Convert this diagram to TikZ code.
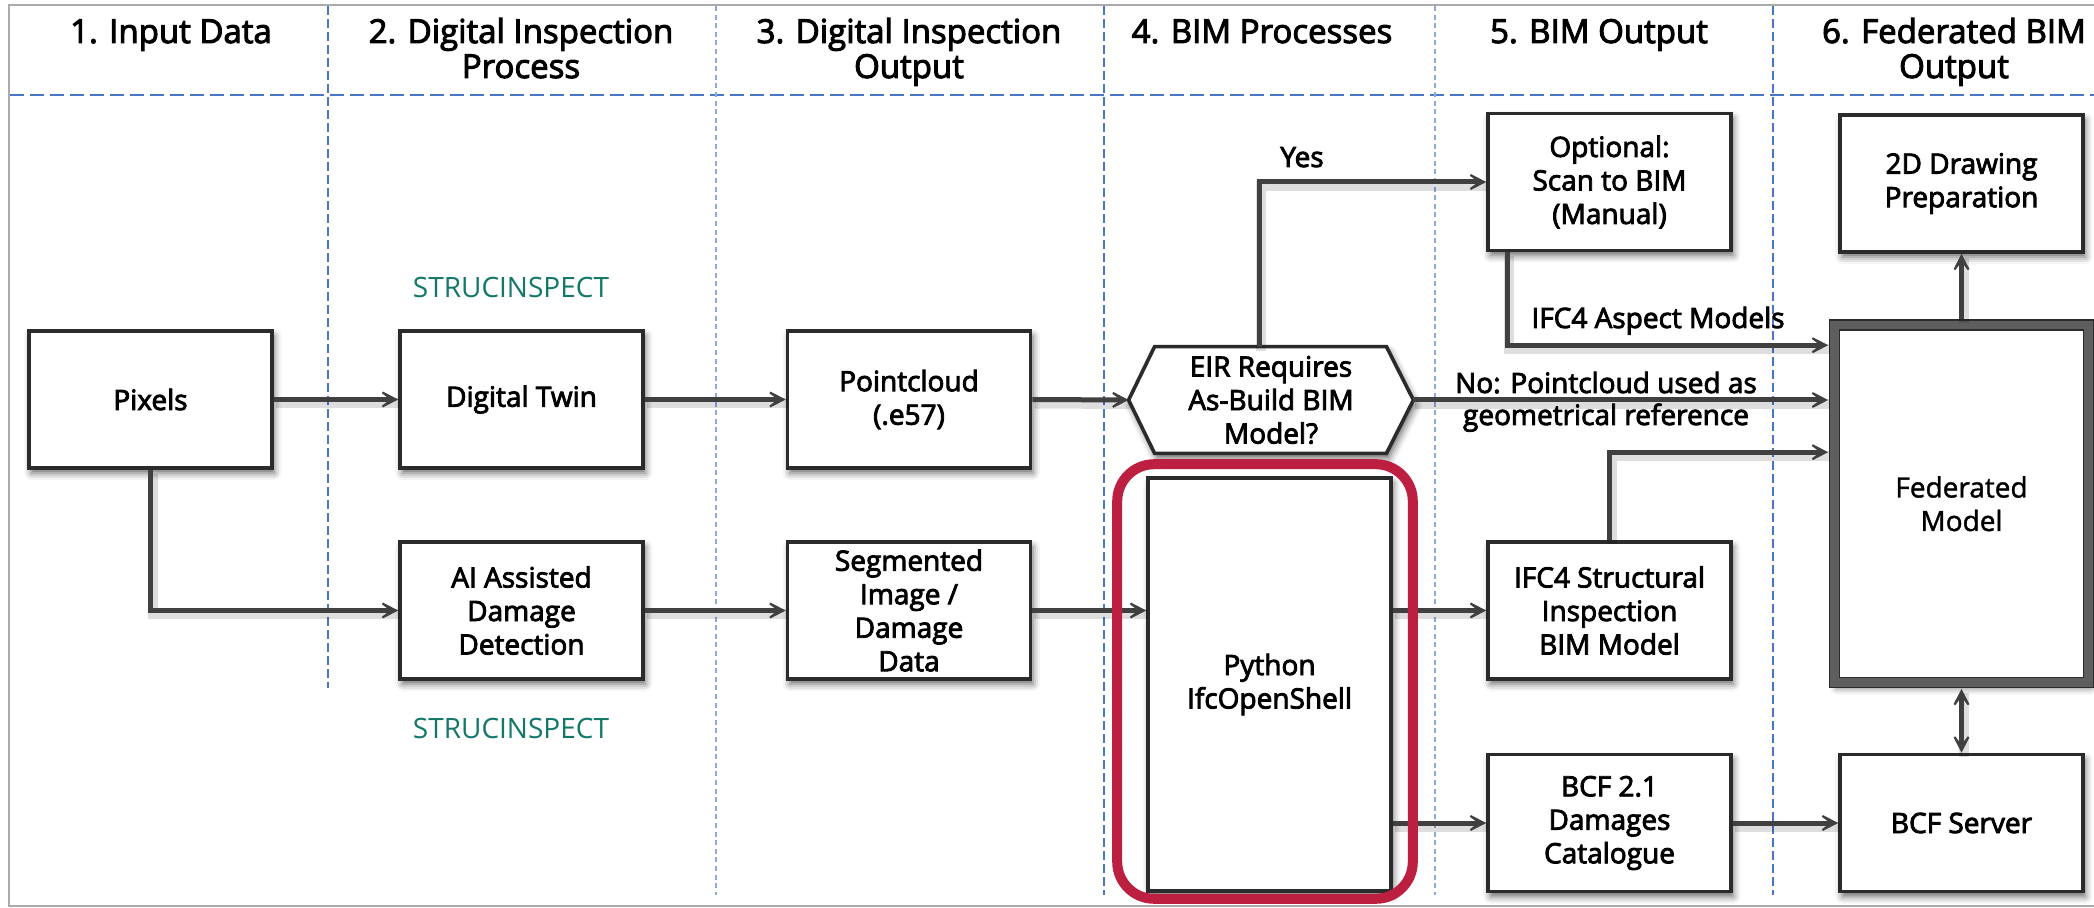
\documentclass[tikz,border=0pt]{standalone}
\usepackage{fontspec}
\setmainfont{Open Sans}
\newfontfamily\semib[FakeBold=3]{Open Sans}
\newfontfamily\regb[FakeBold=1.3]{Open Sans}
\usetikzlibrary{arrows.meta,calc,shadows.blur,backgrounds}

\definecolor{ink}{HTML}{404040}
\definecolor{boxline}{HTML}{2B2B2B}
\definecolor{gridblue}{HTML}{4A76C9}
\definecolor{gridlight}{HTML}{8EA9DB}
\definecolor{framegray}{HTML}{ABABAB}
\definecolor{strucgreen}{HTML}{13776A}
\definecolor{crimson}{HTML}{BC1F40}
\definecolor{fedband}{HTML}{5E5E5E}

\tikzset{
  hdr/.style={font=\semib\fontsize{16.5}{17.5}\selectfont, anchor=base, inner sep=0pt},
  boxtext/.style={font=\semib\fontsize{14}{16.75}\selectfont, align=center},
  softshadow/.style={blur shadow={shadow xshift=1.2pt, shadow yshift=-2.5pt,
      shadow blur radius=3.5pt, shadow opacity=60}},
  stepbox/.style={boxtext, draw=boxline, line width=1.8pt, fill=white,
    minimum width=121.5pt, minimum height=68.5pt, inner sep=2pt, softshadow},
  fedbox/.style={font=\regb\fontsize{14}{16.75}\selectfont, align=center, text=black,
    draw=boxline, line width=0.8pt, double=fedband, double distance=4.2pt,
    fill=white, minimum width=127pt, minimum height=178.75pt, softshadow},
  flow/.style={draw=ink, line width=2.5pt, ->,
    preaction={draw=black, draw opacity=0.13, line width=5pt, arrows=-,
      transform canvas={xshift=1pt, yshift=-2pt}}},
  lbl/.style={font=\semib\fontsize{14}{16.75}\selectfont, anchor=base, inner sep=0pt},
  struc/.style={font=\fontsize{14}{16.75}\selectfont, text=strucgreen, anchor=base, inner sep=0pt},
  gridthick/.style={draw=gridblue, line width=1.2pt, dash pattern=on 4.5pt off 2pt},
  gridrow/.style={draw=gridblue, line width=1.3pt, dash pattern=on 7pt off 3pt},
  gridthin/.style={draw=gridlight, line width=0.6pt, dash pattern=on 2.5pt off 1.8pt},
}

\begin{document}
\begin{tikzpicture}[x=0.5pt, y=-0.5pt,
  >={Stealth[length=13pt, width=13.5pt, inset=9pt]}]
\useasboundingbox (0,0) rectangle (2094,908);

% outer frame
\draw[framegray, line width=1pt] (2094,5) -- (9,5) -- (9,906) -- (2094,906);

% swimlane grid
\draw[gridrow] (10,95) -- (2094,95);
\draw[gridthick] (328,6) -- (328,688);
\draw[gridthin] (716,6) -- (716,895);
\draw[gridthick] (1104,6) -- (1104,895);
\draw[gridthin] (1435,6) -- (1435,895);
\draw[gridthick] (1773,6) -- (1773,895);

% lane headers
\node[hdr] (h1) at (171,43) {1. Input Data};
\node[hdr] (h2) at (521,43) {\begin{tabular}[t]{@{}c@{}}2. Digital Inspection\\Process\end{tabular}};
\node[hdr] (h3) at (909,43) {\begin{tabular}[t]{@{}c@{}}3. Digital Inspection\\Output\end{tabular}};
\node[hdr] (h4) at (1262,43) {4. BIM Processes};
\node[hdr] (h5) at (1599,43) {5. BIM Output};
\node[hdr] (h6) at (1954,43) {\begin{tabular}[t]{@{}c@{}}6. Federated BIM\\Output\end{tabular}};

% process boxes
\node[stepbox] (pix)  at (150.5,399.5) {Pixels};
\node[stepbox] (dt)   at (521.5,399.5) {Digital Twin};
\node[stepbox] (pc)   at (909,399.5)   {Pointcloud\\(.e57)};
\node[stepbox] (ai)   at (521.5,610.5) {AI Assisted\\Damage\\Detection};
\node[stepbox] (seg)  at (909,610.5)   {Segmented\\Image /\\Damage\\Data};
\node[stepbox, minimum height=206.5pt] (py) at (1269.5,684.5) {Python\\IfcOpenShell};
\node[stepbox] (scan) at (1609.5,182)  {Optional:\\Scan to BIM\\(Manual)};
\node[stepbox] (ifcs) at (1609.5,610.5) {IFC4 Structural\\Inspection\\BIM Model};
\node[stepbox] (bcf)  at (1609.5,823)  {BCF 2.1\\Damages\\Catalogue};
\node[stepbox] (dwg)  at (1961.5,183.5) {2D Drawing\\Preparation};
\node[stepbox] (srv)  at (1961.5,823)  {BCF Server};
\node[fedbox]  (fed)  at (1961.5,503.75) {Federated\\Model};

% decision
\node[boxtext, minimum width=142pt, minimum height=53pt, inner sep=0pt] (eir) at (1271,400)
  {EIR Requires\\As-Build BIM\\Model?};
\begin{scope}[on background layer]
  \draw[draw=boxline, line width=1.8pt, fill=white, softshadow]
    (eir.west) -- ($(eir.north west)+(26,0)$) -- ($(eir.north east)+(-27,0)$)
    -- (eir.east) -- ($(eir.south east)+(-27,0)$) -- ($(eir.south west)+(26,0)$) -- cycle;
\end{scope}

% project tags
\node[struc] (s1) at (511,298) {STRUCINSPECT};
\node[struc] (s2) at (511,738) {STRUCINSPECT};

% connectors
\draw[flow] (pix.east) -- (dt.west);
\draw[flow] (dt.east) -- (pc.west);
\draw[flow] (pc.east) -- (eir.west);
\draw[flow] (pix.south) |- (ai.west);
\draw[flow] (ai.east) -- (seg.west);
\draw[flow] (seg.east) -- (seg.east -| py.west);
\draw[flow] ($(eir.north)+(-12,0)$) |- (scan.west);
\coordinate (fedA) at ($(fed.north west)+(0,21)$);
\coordinate (fedC) at ($(fed.north west)+(0,128)$);
\draw[flow, shorten >=2.8pt] ($(scan.south west)+(21,0)$) |- (fedA);
\draw[flow, shorten >=2.8pt] (eir.east) -- (eir.east -| fed.west);
\draw[flow, shorten >=2.8pt] (ifcs.north) |- (fedC);
\draw[flow] (py.east |- ifcs.west) -- (ifcs.west);
\draw[flow] (py.east |- bcf.west) -- (bcf.west);
\draw[flow] (bcf.east) -- (srv.west);
\draw[flow, shorten <=2.8pt] (fed.north) -- (dwg.south);
\draw[flow, <->, shorten <=2.8pt] (fed.south) -- (srv.north);

% connector labels
\node[lbl] (yes) at (1302,167) {Yes};
\node[lbl] (aspect) at (1658,328) {IFC4 Aspect Models};
\node[lbl] (no1) at (1606,393) {No: Pointcloud used as};
\node[lbl] (no2) at (1606,425) {geometrical reference};

% highlight around the scripting step
\draw[crimson, line width=5pt, rounded corners=18.5pt]
  ($(py.north west)+(-29,-12)$) rectangle ($(py.south east)+(20,6)$);
\end{tikzpicture}
\end{document}
